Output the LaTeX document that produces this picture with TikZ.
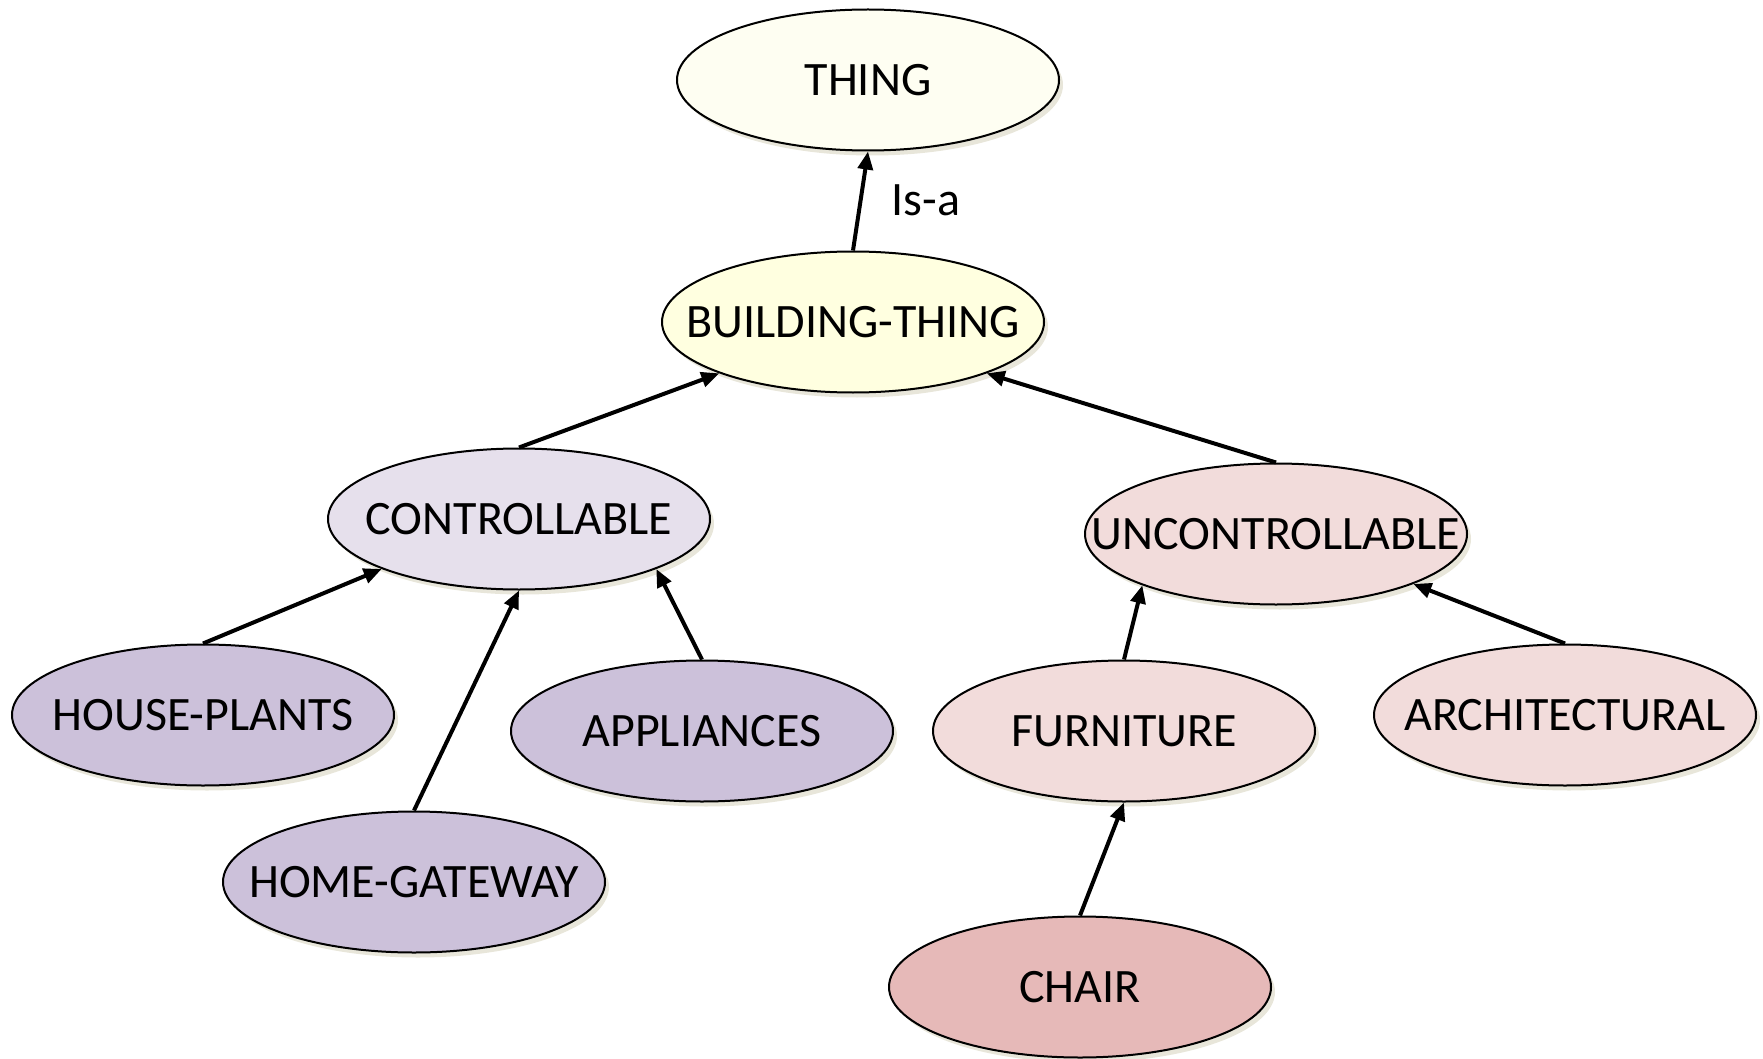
\documentclass[tikz,border=0pt]{standalone}
\usepackage{fontspec}
\setmainfont{Carlito}
\usetikzlibrary{shapes.geometric,arrows.meta,shadows}

\definecolor{thingfill}{HTML}{FEFEF2}
\definecolor{buildfill}{HTML}{FFFFE0}
\definecolor{ctrlfill}{HTML}{E6E0EC}
\definecolor{ctrlkid}{HTML}{CCC1DA}
\definecolor{uncfill}{HTML}{F2DCDB}
\definecolor{chairfill}{HTML}{E6B9B8}
\definecolor{shadowcol}{HTML}{E8E6DA}

\newcommand{\conceptname}[1]{\makebox[0pt][c]{#1}}

\tikzset{
  concept/.style={ellipse, draw=black, line width=2pt,
    minimum width=382pt, minimum height=141pt, inner sep=0pt,
    font=\fontsize{48}{58}\selectfont,
    drop shadow={shadow xshift=4pt, shadow yshift=-5pt, fill=shadowcol, opacity=1}},
  isa/.style={line width=4pt, -{Triangle[length=18pt,width=15pt]}},
  lbl/.style={font=\fontsize{48}{58}\selectfont, inner sep=0pt}
}

\begin{document}
\begin{tikzpicture}[x=1pt, y=-1pt]
  \useasboundingbox (0,0) rectangle (1763,1059);

  % concept hierarchy
  \node[concept, fill=thingfill] (thing) at (868,80) {\conceptname{THING}};
  \node[concept, fill=buildfill] (bt) at (853,322) {\conceptname{BUILDING-THING}};
  \node[concept, fill=ctrlfill] (ctrl) at (519,519) {\conceptname{CONTROLLABLE}};
  \node[concept, fill=uncfill] (unc) at (1276,534) {\conceptname{UNCONTROLLABLE}};
  \node[concept, fill=ctrlkid] (hp) at (203,715) {\conceptname{HOUSE-PLANTS}};
  \node[concept, fill=ctrlkid] (app) at (702,731) {\conceptname{APPLIANCES}};
  \node[concept, fill=ctrlkid] (hg) at (414,882) {\conceptname{HOME-GATEWAY}};
  \node[concept, fill=uncfill] (furn) at (1124,731) {\conceptname{FURNITURE}};
  \node[concept, fill=uncfill] (arch) at (1565,715) {\conceptname{ARCHITECTURAL}};
  \node[concept, fill=chairfill] (chair) at (1080,987) {\conceptname{CHAIR}};

  % is-a links
  \draw[isa] (bt.north) -- (thing.south);
  \node[lbl] (isalabel) at (926,200) {Is-a};
  \draw[isa] (ctrl.north) -- (bt.201);
  \draw[isa] (unc.north) -- (bt.339);
  \draw[isa] (hp.north) -- (ctrl.200.5);
  \draw[isa] (hg.north) -- (ctrl.south);
  \draw[isa] (app.north) -- (ctrl.340.5);
  \draw[isa] (furn.north) -- (unc.201.5);
  \draw[isa] (arch.north) -- (unc.340.5);
  \draw[isa] (chair.north) -- (furn.south);
\end{tikzpicture}
\end{document}
